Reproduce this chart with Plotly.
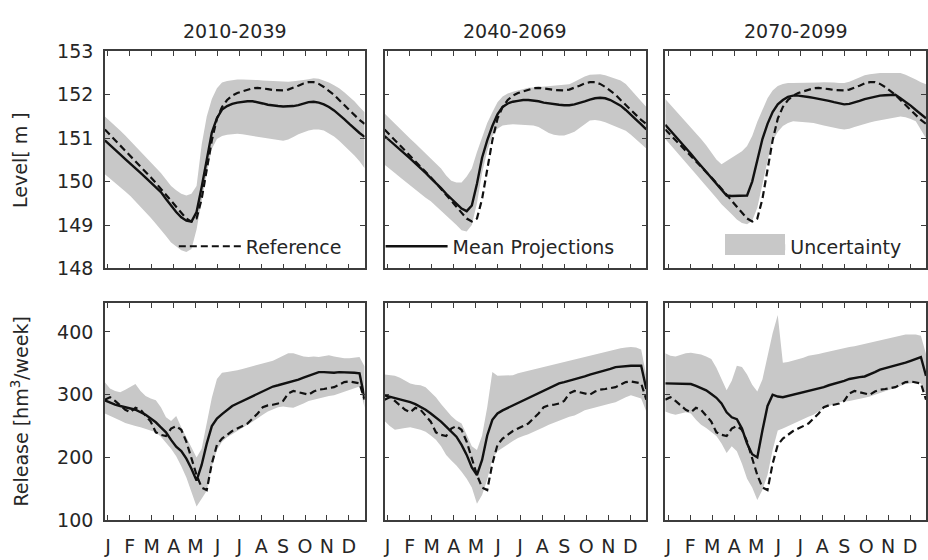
import plotly.graph_objects as go

# ---------------- data ----------------
weeks = list(range(1, 53))
months = ["J", "F", "M", "A", "M", "J", "J", "A", "S", "O", "N", "D"]
periods = ["2010-2039", "2040-2069", "2070-2099"]

# Reservoir level [m] - reference (same for all periods)
ref_level = [151.2, 151.08, 150.96, 150.84, 150.72, 150.6, 150.48, 150.36, 150.23, 150.1,
             149.97, 149.84, 149.7, 149.56, 149.42, 149.28, 149.15, 149.08, 149.15, 149.6,
             150.3, 150.95, 151.45, 151.72, 151.88, 151.98, 152.04, 152.08, 152.12, 152.15,
             152.16, 152.15, 152.13, 152.11, 152.1, 152.1, 152.12, 152.16, 152.21, 152.26,
             152.29, 152.29, 152.25, 152.18, 152.1, 152.0, 151.88, 151.76, 151.64, 151.52,
             151.42, 151.33]

level_mean_2010 = [150.95, 150.85, 150.74, 150.63, 150.52, 150.42, 150.31, 150.2, 150.09, 149.98,
                   149.87, 149.76, 149.6, 149.45, 149.3, 149.18, 149.1, 149.08, 149.3, 149.87,
                   150.54, 151.13, 151.46, 151.66, 151.74, 151.79, 151.82, 151.84, 151.85, 151.85,
                   151.83, 151.8, 151.77, 151.75, 151.74, 151.73, 151.73, 151.74, 151.76, 151.8,
                   151.83, 151.84, 151.82, 151.78, 151.72, 151.64, 151.55, 151.44, 151.33, 151.22,
                   151.12, 151.03]
level_upper_2010 = [151.5, 151.4, 151.3, 151.18, 151.06, 150.94, 150.82, 150.7, 150.58, 150.45,
                    150.32, 150.2, 150.05, 149.9, 149.8, 149.72, 149.68, 149.72, 149.9, 150.85,
                    151.5, 151.9, 152.15, 152.28, 152.32, 152.34, 152.35, 152.35, 152.35, 152.34,
                    152.34, 152.33, 152.33, 152.32, 152.31, 152.3, 152.3, 152.31, 152.32, 152.34,
                    152.36, 152.38, 152.37, 152.33, 152.28, 152.22, 152.15, 152.06, 151.96, 151.85,
                    151.72, 151.6]
level_lower_2010 = [150.17, 150.07, 149.97, 149.87, 149.77, 149.67, 149.55, 149.43, 149.3, 149.17,
                    149.03, 148.9, 148.75, 148.6, 148.5, 148.42, 148.38, 148.45, 148.9, 149.55,
                    150.2, 150.75, 150.98, 151.05, 151.08, 151.09, 151.1, 151.09, 151.08, 151.06,
                    151.04, 151.02, 151.0, 150.98, 150.96, 150.94, 150.97, 151.03, 151.09, 151.14,
                    151.18, 151.2, 151.2, 151.18, 151.12, 151.04, 150.94, 150.83, 150.72, 150.6,
                    150.47, 150.31]

level_mean_2040 = [151.05, 150.95, 150.85, 150.75, 150.64, 150.53, 150.42, 150.32, 150.2, 150.08,
                   149.97, 149.85, 149.72, 149.6, 149.48, 149.38, 149.32, 149.45, 149.95, 150.55,
                   150.95, 151.28, 151.55, 151.72, 151.8, 151.84, 151.86, 151.88, 151.88, 151.87,
                   151.85, 151.82, 151.8, 151.78, 151.77, 151.76, 151.76, 151.78, 151.81, 151.85,
                   151.89, 151.92, 151.93, 151.92, 151.88, 151.82, 151.75, 151.65, 151.55, 151.43,
                   151.32, 151.2]
level_upper_2040 = [151.57, 151.45, 151.34, 151.22, 151.11, 150.99, 150.88, 150.76, 150.65, 150.54,
                    150.42, 150.3, 150.14, 150.02, 149.98, 149.98, 150.12, 150.3, 150.68, 151.0,
                    151.35, 151.6, 151.83, 151.96, 152.03, 152.07, 152.1, 152.13, 152.16, 152.17,
                    152.18, 152.19, 152.2, 152.21, 152.22, 152.23, 152.24, 152.3, 152.36, 152.42,
                    152.46, 152.47, 152.47, 152.45, 152.41, 152.37, 152.33, 152.25, 152.12, 151.97,
                    151.84, 151.72]
level_lower_2040 = [150.39, 150.29, 150.2, 150.1, 150.0, 149.9, 149.81, 149.72, 149.63, 149.55,
                    149.46, 149.35, 149.23, 149.11, 149.0, 148.88, 148.85, 149.0, 149.5, 150.2,
                    150.7, 151.05, 151.22, 151.29, 151.31, 151.32, 151.32, 151.31, 151.3, 151.29,
                    151.26, 151.19, 151.12, 151.08, 151.06, 151.06, 151.1, 151.15, 151.22, 151.32,
                    151.41, 151.42, 151.4, 151.37, 151.32, 151.27, 151.22, 151.17, 151.08, 150.99,
                    150.87, 150.76]

level_mean_2070 = [151.31, 151.18, 151.05, 150.92, 150.78, 150.64, 150.5, 150.36, 150.22, 150.08,
                   149.94, 149.8, 149.68, 149.67, 149.67, 149.67, 149.68, 150.0, 150.5, 150.98,
                   151.33, 151.6, 151.78, 151.88, 151.95, 151.98, 151.98, 151.97, 151.95, 151.93,
                   151.91, 151.89, 151.86, 151.83, 151.8, 151.78, 151.79, 151.82, 151.86, 151.9,
                   151.93, 151.96, 151.98, 151.99, 152.0, 152.0, 151.92, 151.84, 151.75, 151.65,
                   151.55, 151.46]
level_upper_2070 = [151.9, 151.77, 151.64, 151.51, 151.38, 151.26, 151.12, 150.98, 150.84, 150.68,
                    150.51, 150.4, 150.48, 150.56, 150.63, 150.7, 150.82, 151.05, 151.38, 151.67,
                    151.92, 152.1, 152.2, 152.25, 152.27, 152.27, 152.27, 152.27, 152.27, 152.28,
                    152.28, 152.29, 152.29, 152.28, 152.27, 152.27, 152.3, 152.35, 152.4, 152.45,
                    152.47, 152.49, 152.5, 152.5, 152.5, 152.5, 152.5, 152.46, 152.41, 152.35,
                    152.29, 152.24]
level_lower_2070 = [150.98, 150.85, 150.71, 150.57, 150.44, 150.31, 150.17, 150.03, 149.89, 149.75,
                    149.62, 149.48, 149.36, 149.25, 149.13, 149.05, 149.02, 149.1, 149.4, 149.9,
                    150.48, 150.94, 151.14, 151.28, 151.35, 151.39, 151.38, 151.37, 151.36, 151.35,
                    151.32, 151.29, 151.26, 151.24, 151.22, 151.2, 151.22, 151.26, 151.3, 151.33,
                    151.36, 151.39, 151.42, 151.44, 151.46, 151.48, 151.5, 151.48, 151.44, 151.39,
                    151.2, 151.0]

# Release [hm3/week] - reference (same for all periods)
ref_release = [292, 296, 290, 283, 276, 272, 279, 276, 266, 257,
               240, 236, 234, 246, 250, 244, 225, 200, 172, 152,
               148, 190, 220, 230, 236, 242, 246, 250, 254, 262,
               270, 280, 283, 284, 286, 290, 302, 306, 304, 301,
               300, 305, 308, 309, 310, 312, 316, 320, 321, 320,
               318, 292]

release_mean_2010 = [291, 287, 284, 282, 280, 279, 276, 272, 268, 262,
                     256, 248, 240, 228, 217, 210, 198, 182, 163, 188,
                     222, 250, 262, 269, 276, 282, 286, 290, 294, 298,
                     302, 306, 309, 313, 315, 317, 319, 322, 324, 327,
                     330, 332, 336, 336, 335, 335, 336, 336, 336, 335,
                     334, 294]
release_upper_2010 = [320, 310, 306, 304, 308, 313, 317, 306, 298, 294,
                      291, 280, 264, 258, 266, 248, 232, 215, 200, 214,
                      255, 295, 325, 335, 336, 337, 339, 341, 343, 345,
                      347, 349, 351, 354, 358, 362, 366, 366, 363, 361,
                      360, 361, 360, 362, 363, 361, 359, 358, 358, 359,
                      360, 345]
release_lower_2010 = [270, 266, 263, 259, 255, 252, 250, 248, 246, 243,
                      240, 233, 224, 214, 202, 186, 168, 145, 122, 134,
                      147, 185, 212, 225, 232, 238, 243, 247, 252, 257,
                      262, 268, 273, 277, 280, 281, 280, 279, 282, 286,
                      290, 292, 294, 296, 298, 299, 302, 305, 307, 310,
                      313, 279]

release_mean_2040 = [299, 297, 295, 293, 291, 288, 285, 281, 276, 270,
                     264, 257, 249, 241, 233, 220, 204, 184, 172, 196,
                     235, 260, 270, 275, 279, 283, 287, 291, 295, 299,
                     303, 307, 311, 315, 318, 320, 322, 324, 326, 329,
                     332, 334, 336, 338, 341, 344, 345, 346, 346, 346,
                     346, 309]
release_upper_2040 = [332, 331, 330, 327, 322, 318, 316, 315, 312, 304,
                      296, 285, 275, 266, 259, 254, 236, 218, 212, 235,
                      280, 336, 330, 330, 330, 331, 334, 336, 338, 340,
                      343, 345, 347, 349, 351, 353, 355, 357, 359, 361,
                      363, 365, 367, 369, 371, 373, 374, 375, 376, 375,
                      372, 330]
release_lower_2040 = [258, 250, 244, 245, 247, 248, 246, 244, 241, 235,
                      228, 218, 204, 195, 187, 177, 166, 152, 126, 140,
                      165, 198, 210, 216, 221, 226, 231, 234, 237, 241,
                      244, 248, 252, 256, 259, 262, 265, 267, 271, 275,
                      278, 279, 281, 284, 286, 288, 292, 296, 299, 296,
                      294, 273]

release_mean_2070 = [318, 318, 317, 317, 317, 317, 314, 310, 307, 301,
                     295, 286, 272, 264, 261, 246, 222, 205, 200, 243,
                     282, 300, 297, 296, 298, 300, 302, 303, 305, 307,
                     309, 312, 315, 317, 320, 322, 325, 327, 328, 329,
                     332, 336, 340, 342, 344, 346, 348, 351, 354, 357,
                     360, 330]
release_upper_2070 = [366, 362, 361, 364, 366, 367, 366, 364, 361, 357,
                      343, 324, 307, 322, 346, 344, 332, 316, 305, 324,
                      360, 398, 427, 351, 352, 354, 357, 359, 362, 363,
                      365, 367, 369, 370, 372, 374, 376, 377, 379, 381,
                      383, 384, 386, 388, 390, 392, 394, 396, 396, 396,
                      394, 365]
release_lower_2070 = [273, 270, 268, 270, 272, 270, 260, 252, 247, 241,
                      234, 222, 207, 218, 210, 190, 166, 152, 132, 148,
                      172, 212, 243, 246, 249, 253, 257, 261, 265, 268,
                      273, 278, 282, 285, 288, 289, 290, 291, 293, 295,
                      297, 300, 302, 305, 308, 311, 314, 317, 318, 319,
                      318, 300]

level_ticks = [148, 149, 150, 151, 152, 153]
release_ticks = [100, 200, 300, 400]

level_means = [level_mean_2010, level_mean_2040, level_mean_2070]
level_uppers = [level_upper_2010, level_upper_2040, level_upper_2070]
level_lowers = [level_lower_2010, level_lower_2040, level_lower_2070]
release_means = [release_mean_2010, release_mean_2040, release_mean_2070]
release_uppers = [release_upper_2010, release_upper_2040, release_upper_2070]
release_lowers = [release_lower_2010, release_lower_2040, release_lower_2070]

# ---------------- layout geometry ----------------
W, H = 928, 560
col_px = [(104, 364), (384, 646), (665, 926)]
row_px = [(42, 268), (304, 530)]
FONT = "DejaVu Sans"
TXT = "#262626"
AX = "#3c3c3c"
BAND = "#c8c8c8"


def xdom(c):
    return [col_px[c][0] / W, col_px[c][1] / W]


def ydom(r):
    return [1 - row_px[r][1] / H, 1 - row_px[r][0] / H]


month_pos = [1.6 + i * 4.3 for i in range(12)]

fig = go.Figure()
layout = dict(
    width=W, height=H,
    margin=dict(l=0, r=0, t=0, b=0),
    paper_bgcolor="white", plot_bgcolor="white",
    font=dict(family=FONT, size=19, color=TXT),
    showlegend=True,
)

rows = [
    (ref_level, level_means, level_uppers, level_lowers, [148, 153], level_ticks),
    (ref_release, release_means, release_uppers, release_lowers, [100, 446], release_ticks),
]

for r, (ref, means, uppers, lowers, yr, yt) in enumerate(rows):
    for c in range(3):
        k = r * 3 + c + 1
        xa = "x" if k == 1 else f"x{k}"
        ya = "y" if k == 1 else f"y{k}"
        first = (k == 1)
        fig.add_trace(go.Scatter(
            x=weeks + weeks[::-1], y=uppers[c] + lowers[c][::-1],
            fill="toself", fillcolor=BAND, line=dict(width=0, color=BAND),
            mode="lines", name="Uncertainty", showlegend=first, legend="legend3",
            xaxis=xa, yaxis=ya, hoverinfo="skip"))
        fig.add_trace(go.Scatter(
            x=weeks, y=ref, mode="lines",
            line=dict(color="#111111", width=2.2, dash="7px,4px"),
            name="Reference", showlegend=first, legend="legend",
            xaxis=xa, yaxis=ya))
        fig.add_trace(go.Scatter(
            x=weeks, y=means[c], mode="lines",
            line=dict(color="#111111", width=2.4),
            name="Mean Projections", showlegend=first, legend="legend2",
            xaxis=xa, yaxis=ya))

        common = dict(showline=True, linecolor=AX, linewidth=1.5, mirror="allticks",
                      ticks="inside", ticklen=5, tickwidth=1.3, tickcolor=AX,
                      showgrid=False, zeroline=False,
                      tickfont=dict(family=FONT, size=19, color=TXT))
        layout["xaxis" if k == 1 else f"xaxis{k}"] = dict(
            domain=xdom(c), anchor=ya, range=[1, 52],
            tickmode="array", tickvals=month_pos, ticktext=months,
            showticklabels=(r == 1), ticklabelstandoff=8, **common)
        layout["yaxis" if k == 1 else f"yaxis{k}"] = dict(
            domain=ydom(r), anchor=xa, range=yr,
            tickmode="array", tickvals=yt,
            showticklabels=(c == 0), ticklabelstandoff=6, **common)

leg_common = dict(bgcolor="rgba(0,0,0,0)", borderwidth=0,
                  font=dict(family=FONT, size=19, color=TXT),
                  xanchor="left", yanchor="middle", orientation="h")
yl = 1 - 245 / H
layout["legend"] = dict(x=173 / W, y=yl, itemwidth=62, **leg_common)
layout["legend2"] = dict(x=380 / W, y=yl, itemwidth=62, **leg_common)
layout["legend3"] = dict(x=721 / W, y=yl, itemwidth=59, **leg_common)

annotations = []
for c, p in enumerate(periods):
    annotations.append(dict(text=p, x=(col_px[c][0] + col_px[c][1]) / 2 / W, y=1 - 21 / H,
                            xref="paper", yref="paper", showarrow=False,
                            xanchor="center", yanchor="middle",
                            font=dict(family=FONT, size=19, color=TXT)))
annotations.append(dict(text="Level[ m ]", x=19 / W, y=1 - 155 / H, xref="paper", yref="paper",
                        showarrow=False, textangle=-90, xanchor="center", yanchor="middle",
                        font=dict(family=FONT, size=19, color=TXT)))
annotations.append(dict(text="Release [hm<sup>3</sup>/week]", x=19 / W, y=1 - 417 / H,
                        xref="paper", yref="paper", showarrow=False, textangle=-90,
                        xanchor="center", yanchor="middle",
                        font=dict(family=FONT, size=19, color=TXT)))
# larger swatch behind the "Uncertainty" legend key, like the reference's grey box
annotations.append(dict(text=" ", x=755 / W, y=1 - 243 / H, xref="paper", yref="paper",
                        showarrow=False, xanchor="center", yanchor="middle",
                        width=60, height=21, bgcolor=BAND, borderpad=0, borderwidth=0,
                        font=dict(family=FONT, size=12, color=BAND)))
layout["annotations"] = annotations

fig.update_layout(**layout)
fig.write_html("out.html")
